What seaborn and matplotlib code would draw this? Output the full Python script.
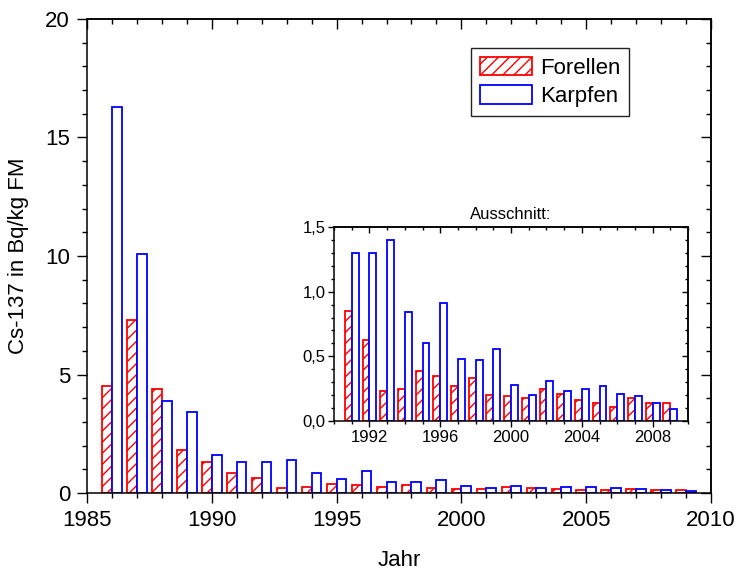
import matplotlib
matplotlib.use('agg')
import matplotlib.pyplot as plt
from matplotlib.ticker import MultipleLocator
import pandas as pd
import seaborn as sns

# Cs-137 in Fischen, Jahreswerte
jahre = list(range(1986, 2010))
forellen = [4.5, 7.3, 4.4, 1.8, 1.3, 0.85, 0.63, 0.23, 0.25, 0.39, 0.35, 0.27,
            0.33, 0.20, 0.19, 0.18, 0.25, 0.21, 0.16, 0.14, 0.11, 0.18, 0.14, 0.14]
karpfen = [16.3, 10.1, 3.9, 3.4, 1.6, 1.3, 1.3, 1.4, 0.84, 0.60, 0.91, 0.48,
           0.47, 0.56, 0.28, 0.20, 0.31, 0.23, 0.25, 0.27, 0.21, 0.19, 0.14, 0.09]
arten = ['Forellen', 'Karpfen']
farben = ['#ff0000', '#0000ff']

main_xticks = [1985, 1990, 1995, 2000, 2005, 2010]
main_yticks = [0, 5, 10, 15, 20]
inset_start = 1991
inset_xticks = [1992, 1996, 2000, 2004, 2008]
inset_yticks = [0.0, 0.5, 1.0, 1.5]
inset_ylabels = ['0,0', '0,5', '1,0', '1,5']

n = len(jahre)
data = pd.DataFrame({'Jahr': jahre * 2,
                     'Wert': forellen + karpfen,
                     'Art': [arten[0]] * n + [arten[1]] * n})
data_inset = data[data['Jahr'] >= inset_start]

sns.set_style('ticks', rc={'axes.edgecolor': 'black', 'xtick.color': 'black',
                           'ytick.color': 'black', 'text.color': 'black',
                           'axes.labelcolor': 'black'})
plt.rcParams['font.family'] = ['Liberation Sans', 'DejaVu Sans']
plt.rcParams['hatch.linewidth'] = 1.0


def balken(ax, df):
    sns.barplot(data=df, x='Jahr', y='Wert', hue='Art', hue_order=arten,
                palette=farben, native_scale=True, fill=False, width=0.78,
                errorbar=None, linewidth=1.3, legend=False, ax=ax)
    for cont, col in zip(ax.containers, farben):
        for p in cont:
            p.set_facecolor('white')
            p.set_edgecolor(col)
    for p in ax.containers[0]:
        p.set_hatch('///')


def achsen(ax, xt, yt, major, minor, lsize, ymin):
    ax.set_xticks(xt)
    ax.set_yticks(yt)
    ax.xaxis.set_minor_locator(MultipleLocator(1))
    ax.yaxis.set_minor_locator(MultipleLocator(ymin))
    ax.tick_params(which='major', direction='out', length=major, width=1.0,
                   labelsize=lsize)
    ax.tick_params(which='minor', direction='out', length=minor, width=1.0)
    for s in ax.spines.values():
        s.set_linewidth(1.1)
        s.set_visible(True)
    top = ax.secondary_xaxis('top')
    top.set_xticks(xt)
    top.xaxis.set_minor_locator(MultipleLocator(1))
    top.tick_params(which='major', direction='in', length=major, width=1.0, labeltop=False)
    top.tick_params(which='minor', direction='in', length=minor, width=1.0)
    top.spines['top'].set_linewidth(1.1)
    right = ax.secondary_yaxis('right')
    right.set_yticks(yt)
    right.yaxis.set_minor_locator(MultipleLocator(ymin))
    right.tick_params(which='major', direction='in', length=major, width=1.0, labelright=False)
    right.tick_params(which='minor', direction='in', length=minor, width=1.0)
    right.spines['right'].set_linewidth(1.1)


fig = plt.figure(figsize=(7.38, 5.72), dpi=100)
ax = fig.add_axes([0.1179, 0.1381, 0.8455, 0.8287])
balken(ax, data)
ax.set_xlim(1985, 2010)
ax.set_ylim(0, 20)
achsen(ax, main_xticks, main_yticks, 7.2, 3.6, 16, 1)
ax.tick_params(which='major', pad=5)
ax.set_xlabel('Jahr', fontsize=16, labelpad=14)
ax.set_ylabel('Cs-137 in Bq/kg FM', fontsize=16, labelpad=12)

leg = ax.legend(handles=[ax.containers[0], ax.containers[1]], labels=arten,
                loc='upper left', bbox_to_anchor=(0.638, 0.916),
                bbox_transform=fig.transFigure, borderaxespad=0,
                fontsize=16, handlelength=2.35, handleheight=0.9,
                handletextpad=0.36, labelspacing=0.3, borderpad=0.4,
                fancybox=False, framealpha=1)
leg.get_frame().set_edgecolor('#222222')
leg.get_frame().set_linewidth(1.0)

ins = fig.add_axes([0.4526, 0.264, 0.4797, 0.3392])
balken(ins, data_inset)
ins.set_xlim(1990, 2010)
ins.set_ylim(0, 1.5)
achsen(ins, inset_xticks, inset_yticks, 4.3, 2.2, 12, 0.1)
ins.set_yticklabels(inset_ylabels)
ins.tick_params(which='major', pad=2)
ins.set_xlabel('')
ins.set_ylabel('')
ins.set_title('Ausschnitt:', fontsize=12, pad=6)

fig.savefig('out.png', dpi=100)
